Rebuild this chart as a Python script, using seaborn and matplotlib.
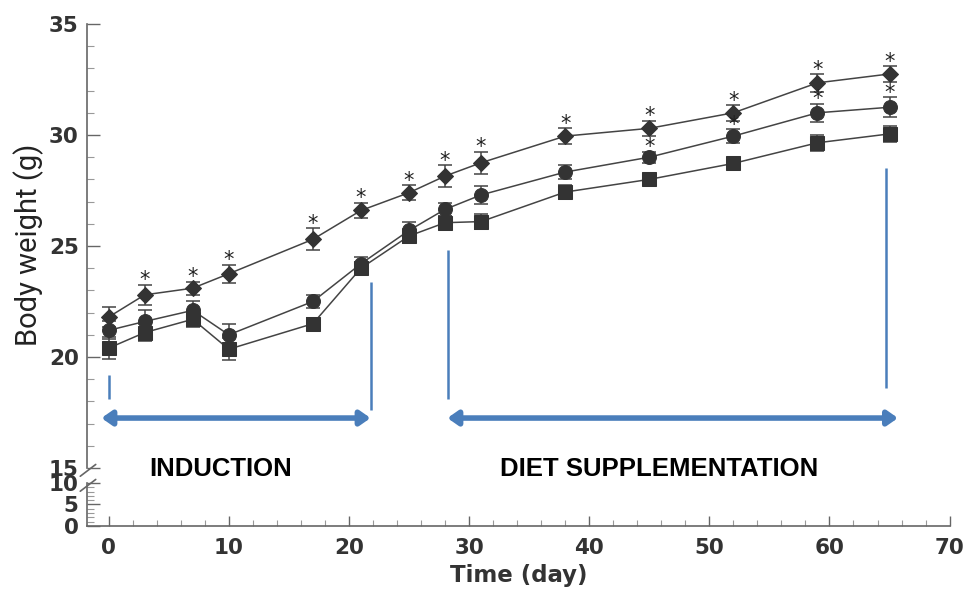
import numpy as np
import pandas as pd
import matplotlib
matplotlib.use("Agg")
import matplotlib.pyplot as plt
import matplotlib.ticker as mticker
import seaborn as sns

# ─── Data ─────────────────────────────────────────────────────────────────────

days = [0, 3, 7, 10, 17, 21, 25, 28, 31, 38, 45, 52, 59, 65]

diamond_mean = [21.8, 22.8, 23.1, 23.75, 25.3, 26.6, 27.4, 28.15, 28.75, 29.95, 30.3, 31.0, 32.35, 32.75]
diamond_err = [0.45, 0.45, 0.3, 0.4, 0.5, 0.35, 0.35, 0.5, 0.5, 0.35, 0.35, 0.35, 0.4, 0.35]

circle_mean = [21.2, 21.6, 22.1, 21.0, 22.5, 24.2, 25.7, 26.65, 27.3, 28.33, 29.0, 29.95, 31.0, 31.25]
circle_err = [0.4, 0.5, 0.4, 0.5, 0.3, 0.3, 0.4, 0.3, 0.4, 0.3, 0.25, 0.3, 0.4, 0.45]

square_mean = [20.4, 21.1, 21.7, 20.35, 21.5, 24.0, 25.45, 26.05, 26.1, 27.43, 28.0, 28.72, 29.65, 30.05]
square_err = [0.5, 0.4, 0.35, 0.5, 0.25, 0.25, 0.3, 0.3, 0.35, 0.3, 0.25, 0.25, 0.35, 0.35]

# significance stars
diamond_star = [False] + [True] * 13
circle_star = [False] * 10 + [True] * 4

# phase annotations
induction_span = (-0.6, 21.8)
diet_span = (28.2, 65.7)
arrow_y = 17.25
phase_marks = [(0.0, 18.1, 19.2), (21.8, 17.6, 23.4), (28.25, 18.1, 24.8), (64.7, 18.6, 28.5)]

# ─── Style ────────────────────────────────────────────────────────────────────

sns.set_theme(style="ticks")
plt.rcParams["font.family"] = ["DejaVu Sans"]

ink = "#333333"
spine_c = "#666666"
blue = "#4a7ebb"

fig = plt.figure(figsize=(9.67, 5.9), dpi=100)
ax = fig.add_axes([0.09, 0.2068, 0.892, 0.7525])
axl = fig.add_axes([0.09, 0.1085, 0.892, 0.0729], sharex=ax)

series = [
    (diamond_mean, diamond_err, "D", 8.5, diamond_star),
    (circle_mean, circle_err, "o", 10, circle_star),
    (square_mean, square_err, "s", 9.5, None),
]

for mean, err, mk, ms, stars in series:
    df = pd.DataFrame({"day": days, "weight": mean})
    sns.lineplot(data=df, x="day", y="weight", ax=ax, color="#444444", lw=1.1,
                 marker=mk, markersize=ms, markerfacecolor="#333333",
                 markeredgecolor="#333333", zorder=3)
    ax.errorbar(days, mean, yerr=err, fmt="none", ecolor="#444444",
                elinewidth=1.1, capsize=5, capthick=1.1, zorder=2)
    if stars is not None:
        for d, m, e, s in zip(days, mean, err, stars):
            if s:
                ax.annotate("*", (d, m + e), xytext=(0, -4), textcoords="offset points",
                            ha="center", va="bottom", fontsize=15, color="#222222")

# blue phase markers
for x, y0, y1 in phase_marks:
    ax.plot([x, x], [y0, y1], color=blue, lw=1.8, solid_capstyle="butt", zorder=1)
for x0, x1 in [induction_span, diet_span]:
    ax.annotate("", xy=(x1, arrow_y), xytext=(x0, arrow_y),
                arrowprops=dict(arrowstyle="<|-|>,head_length=0.5,head_width=0.35",
                                color=blue, lw=4, shrinkA=0, shrinkB=0))

ax.text(9.33, 14.95, "INDUCTION", ha="center", va="center", fontsize=18.5,
        fontweight="bold", family=["Liberation Sans", "DejaVu Sans"], color="black")
ax.text(45.8, 14.95, "DIET SUPPLEMENTATION", ha="center", va="center", fontsize=18.5,
        fontweight="bold", family=["Liberation Sans", "DejaVu Sans"], color="black")

# ─── Axes ─────────────────────────────────────────────────────────────────────

ax.set_xlim(-1.8, 70)
ax.set_ylim(15, 35)
axl.set_ylim(0, 10)

for a in (ax, axl):
    for side in ("top", "right"):
        a.spines[side].set_visible(False)
    a.spines["left"].set_color(spine_c)
    a.spines["left"].set_linewidth(1.2)
    a.set_xlabel("")
    a.set_ylabel("")
ax.spines["bottom"].set_visible(False)
axl.spines["bottom"].set_color(spine_c)
axl.spines["bottom"].set_linewidth(1.2)
axl.spines["bottom"].set_bounds(-1.8, 70)

ax.yaxis.set_major_locator(mticker.MultipleLocator(5))
ax.yaxis.set_minor_locator(mticker.MultipleLocator(1))
axl.yaxis.set_major_locator(mticker.MultipleLocator(5))
axl.yaxis.set_minor_locator(mticker.MultipleLocator(1))
axl.xaxis.set_major_locator(mticker.MultipleLocator(10))
axl.xaxis.set_minor_locator(mticker.MultipleLocator(2))

ax.tick_params(axis="x", which="both", bottom=False, labelbottom=False)
for a in (ax, axl):
    a.tick_params(axis="y", which="major", direction="in", length=9, width=1,
                  color=spine_c, labelsize=15.5, labelcolor=ink, pad=6)
    a.tick_params(axis="y", which="minor", direction="in", length=5, width=0.8,
                  color="#999999")
axl.tick_params(axis="x", which="major", direction="in", length=7, width=1,
                color=spine_c, labelsize=15.5, labelcolor=ink, pad=9)
axl.tick_params(axis="x", which="minor", direction="in", length=4, width=0.8,
                color="#999999")
for lab in ax.get_yticklabels() + axl.get_yticklabels() + axl.get_xticklabels():
    lab.set_fontweight("bold")

axl.set_xlabel("Time (day)", fontsize=16.5, fontweight="bold", color=ink, labelpad=4)
fig.text(0.03, 0.585, "Body weight (g)", rotation=90, ha="center", va="center",
         fontsize=21, family=["Roboto", "DejaVu Sans"], color="#222222")

# broken-axis slashes
kw = dict(color=spine_c, lw=1.2, clip_on=False)
for yy in (0.2068 - 0.004, 0.1814 - 0.004):
    fig.add_artist(plt.Line2D([0.083, 0.099], [yy - 0.01, yy + 0.01], transform=fig.transFigure, **kw))

fig.savefig("out.png", dpi=100)
